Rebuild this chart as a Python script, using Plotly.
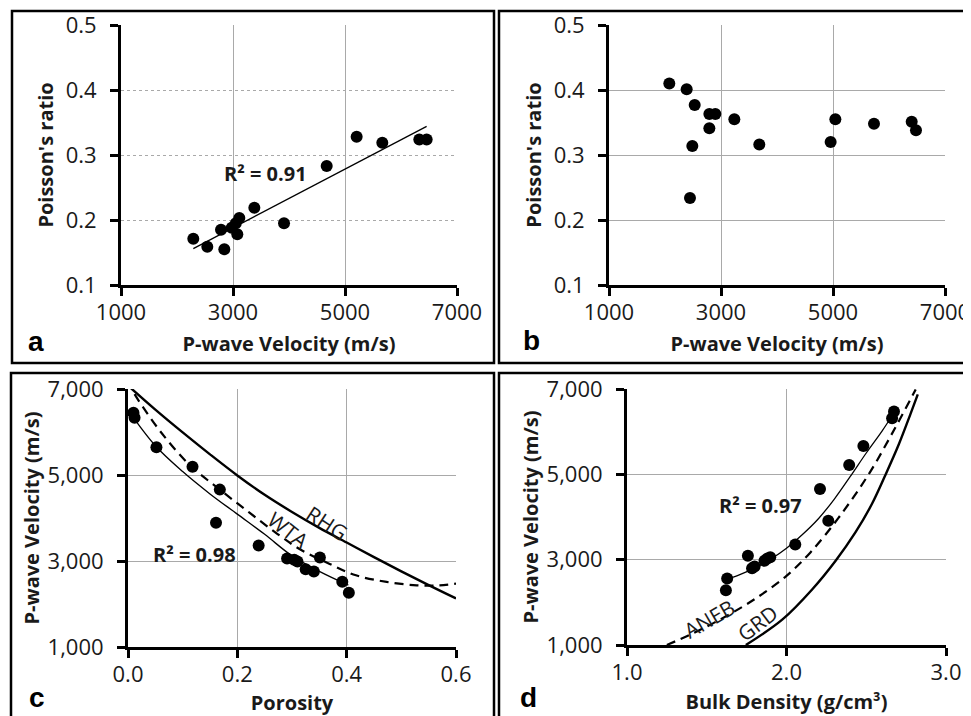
import plotly.graph_objects as go

# ---------------- data ----------------
# Panel a: Poisson's ratio vs P-wave velocity (with linear trend)
a_vp = [2291, 2541, 2786, 2845, 2977, 3050, 3077, 3113, 3381, 3911, 4673, 5208, 5666, 6327, 6458]
a_nu = [0.171, 0.159, 0.185, 0.155, 0.188, 0.195, 0.178, 0.203, 0.219, 0.195, 0.283, 0.328, 0.319, 0.324, 0.324]
a_fit_vp = [2291, 6458]
a_fit_nu = [0.156, 0.344]

# Panel b: Poisson's ratio vs P-wave velocity
b_vp = [2077, 2387, 2530, 2488, 2446, 2792, 2899, 2792, 3238, 3684, 4958, 5042, 5732, 6405, 6482]
b_nu = [0.410, 0.401, 0.377, 0.314, 0.234, 0.363, 0.363, 0.341, 0.355, 0.316, 0.320, 0.355, 0.348, 0.351, 0.338]

# Panel c: P-wave velocity vs porosity
c_phi = [0.010, 0.012, 0.052, 0.118, 0.168, 0.161, 0.239, 0.291, 0.304, 0.310, 0.325, 0.340, 0.351, 0.392, 0.404]
c_vp = [6450, 6330, 5643, 5194, 4660, 3890, 3360, 3060, 3030, 2990, 2810, 2755, 3080, 2515, 2260]
c_fit_phi = [0.005, 0.05, 0.1, 0.15, 0.2, 0.25, 0.3, 0.35, 0.403]
c_fit_vp = [6420, 5680, 5080, 4560, 4090, 3620, 3120, 2760, 2440]
rhg_phi = [0.0, 0.05, 0.1, 0.15, 0.2, 0.25, 0.3, 0.35, 0.4, 0.45, 0.5, 0.55, 0.6]
rhg_vp = [7080, 6520, 5990, 5480, 4990, 4540, 4140, 3770, 3430, 3090, 2760, 2440, 2130]
wta_phi = [0.012, 0.02, 0.06, 0.113, 0.167, 0.221, 0.273, 0.313, 0.368, 0.417, 0.473, 0.528, 0.57, 0.6]
wta_vp = [6880, 6720, 6000, 5230, 4670, 4135, 3633, 3285, 2937, 2667, 2514, 2435, 2435, 2474]

# Panel d: P-wave velocity vs bulk density
d_rho = [2.674, 2.662, 2.482, 2.393, 2.210, 2.262, 2.055, 1.758, 1.784, 1.800, 1.862, 1.880, 1.898, 1.628, 1.620]
d_vp = [6470, 6315, 5665, 5220, 4655, 3910, 3355, 3090, 2800, 2840, 2976, 3030, 3055, 2560, 2285]
d_fit_rho = [1.62, 1.7, 1.8, 1.9, 2.0, 2.1, 2.2, 2.3, 2.4, 2.5, 2.6, 2.67]
d_fit_vp = [2540, 2640, 2800, 3010, 3270, 3590, 3960, 4420, 4950, 5500, 6020, 6420]
aneb_rho = [1.25, 1.4, 1.55, 1.73, 1.85, 2.0, 2.15, 2.33, 2.52, 2.68, 2.81]
aneb_vp = [1000, 1250, 1530, 1910, 2200, 2620, 3170, 4000, 5030, 6080, 6990]
grd_rho = [1.745, 1.975, 2.162, 2.308, 2.433, 2.537, 2.620, 2.703, 2.776, 2.823]
grd_vp = [1000, 1600, 2308, 2976, 3645, 4315, 4983, 5692, 6400, 6872]

# ---------------- figure ----------------
# The page adds an 8px body margin, so the figure is sized to the window minus it
OFF = 8
W, H = 963, 708
def fx(p):
    return (p - OFF) / W
def fy(p):
    return 1 - (p - OFF) / H

FONT = "Open Sans"
tickfont = dict(family=FONT, size=22, color="#1a1a1a")
titlefont = dict(family=FONT, size=20, color="#1a1a1a", weight="bold")

fig = go.Figure()

mk = dict(color="black", size=12)
def pts(x, y, ax):
    fig.add_trace(go.Scatter(x=x, y=y, mode="markers", marker=mk, xaxis="x" + ax, yaxis="y" + ax,
                             showlegend=False, hoverinfo="skip"))

def curve(x, y, ax, width=1.3, dash="solid", shape="spline"):
    fig.add_trace(go.Scatter(x=x, y=y, mode="lines", line=dict(color="black", width=width, dash=dash, shape=shape),
                             xaxis="x" + ax, yaxis="y" + ax, showlegend=False, hoverinfo="skip"))

# panel a
curve(a_fit_vp, a_fit_nu, "", width=1.3, shape="linear")
pts(a_vp, a_nu, "")
# panel b
pts(b_vp, b_nu, "2")
# panel c
curve(rhg_phi, rhg_vp, "3", width=2.4)
curve(wta_phi, wta_vp, "3", width=2.2, dash="9px,6px")
curve(c_fit_phi, c_fit_vp, "3", width=1.3)
pts(c_phi, c_vp, "3")
# panel d
curve(grd_rho, grd_vp, "4", width=2.4)
curve(aneb_rho, aneb_vp, "4", width=2.2, dash="9px,6px")
curve(d_fit_rho, d_fit_vp, "4", width=1.3)
pts(d_rho, d_vp, "4")

common = dict(showline=True, linecolor="black", linewidth=3, ticks="outside", ticklen=8, tickwidth=3,
              tickcolor="black", showgrid=True, gridcolor="#a9a9a9", gridwidth=1, zeroline=False,
              tickfont=tickfont, mirror=False, automargin=False)

def xax(dom_px, anchor, rng, dtick, fmt, title, standoff=12):
    return dict(common, domain=[fx(dom_px[0]), fx(dom_px[1])], anchor=anchor, range=rng, dtick=dtick,
                tick0=rng[0], tickformat=fmt, ticklabelstandoff=-2,
                title=dict(text=title, font=titlefont, standoff=standoff))

def yax(dom_px, anchor, rng, dtick, fmt, title, standoff=7, griddash="solid"):
    return dict(common, domain=[fy(dom_px[1]), fy(dom_px[0])], anchor=anchor, range=rng, dtick=dtick,
                tick0=rng[0], tickformat=fmt, ticklabelstandoff=9, griddash=griddash,
                title=dict(text=title, font=titlefont, standoff=standoff))

fig.update_layout(
    width=W, height=H, margin=dict(l=0, r=0, t=0, b=0, autoexpand=False),
    paper_bgcolor="white", plot_bgcolor="white", showlegend=False,
    xaxis=dict(xax([121, 457], "y", [1000, 7000], 2000, "d", "P-wave Velocity (m/s)")),
    yaxis=dict(yax([25, 285], "x", [0.1, 0.5], 0.1, ".1f", "Poisson's ratio", griddash="dot")),
    xaxis2=dict(xax([609, 945], "y2", [1000, 7000], 2000, "d", "P-wave Velocity (m/s)")),
    yaxis2=dict(yax([25, 285], "x2", [0.1, 0.5], 0.1, ".1f", "Poisson's ratio")),
    xaxis3=dict(xax([128, 456], "y3", [0, 0.6], 0.2, ".1f", "Porosity", standoff=10)),
    yaxis3=dict(yax([389, 647], "x3", [1000, 7000], 2000, ",d", "P-wave Velocity (m/s)", standoff=3)),
    xaxis4=dict(xax([627, 946], "y4", [1, 3], 1, ".1f", "Bulk Density (g/cm³)", standoff=10)),
    yaxis4=dict(yax([389, 645], "x4", [1000, 7000], 2000, ",d", "P-wave Velocity (m/s)", standoff=3)),
)

# panel frames
frames = [(12, 11, 494, 363), (499, 11, 990, 363), (11, 373, 494, 735), (499, 373, 990, 735)]
for (x0, y0, x1, y1) in frames:
    fig.add_shape(type="rect", xref="paper", yref="paper", x0=fx(x0), x1=fx(x1), y0=fy(y1), y1=fy(y0),
                  line=dict(color="black", width=2.5), fillcolor="rgba(0,0,0,0)", layer="below")

ann = []
# panel letters
for lab, x, y in [("a", 36, 342), ("b", 531, 340), ("c", 37, 697), ("d", 528, 697)]:
    ann.append(dict(text=lab, x=fx(x), y=fy(y), xref="paper", yref="paper", showarrow=False,
                    xanchor="center", yanchor="middle",
                    font=dict(family="Liberation Sans", size=28, color="black", weight="bold")))
# R² labels
r2font = dict(family=FONT, size=20, color="#1a1a1a", weight="bold")
ann.append(dict(text="R² = 0.91", x=3589, y=0.272, xref="x", yref="y", showarrow=False, font=r2font))
ann.append(dict(text="R² = 0.98", x=0.121, y=3156, xref="x3", yref="y3", showarrow=False, font=r2font))
ann.append(dict(text="R² = 0.97", x=1.838, y=4265, xref="x4", yref="y4", showarrow=False, font=r2font))
# model curve labels
lblfont = dict(family=FONT, size=21, color="#1a1a1a")
ann.append(dict(text="RHG", x=0.3635, y=3877, xref="x3", yref="y3", showarrow=False, textangle=33, font=lblfont))
ann.append(dict(text="WTA", x=0.293, y=3721, xref="x3", yref="y3", showarrow=False, textangle=38, font=lblfont))
ann.append(dict(text="ANEB", x=1.513, y=1620, xref="x4", yref="y4", showarrow=False, textangle=-30, font=lblfont))
ann.append(dict(text="GRD", x=1.819, y=1508, xref="x4", yref="y4", showarrow=False, textangle=-37, font=lblfont))
fig.update_layout(annotations=ann)

fig.write_html("out.html")
